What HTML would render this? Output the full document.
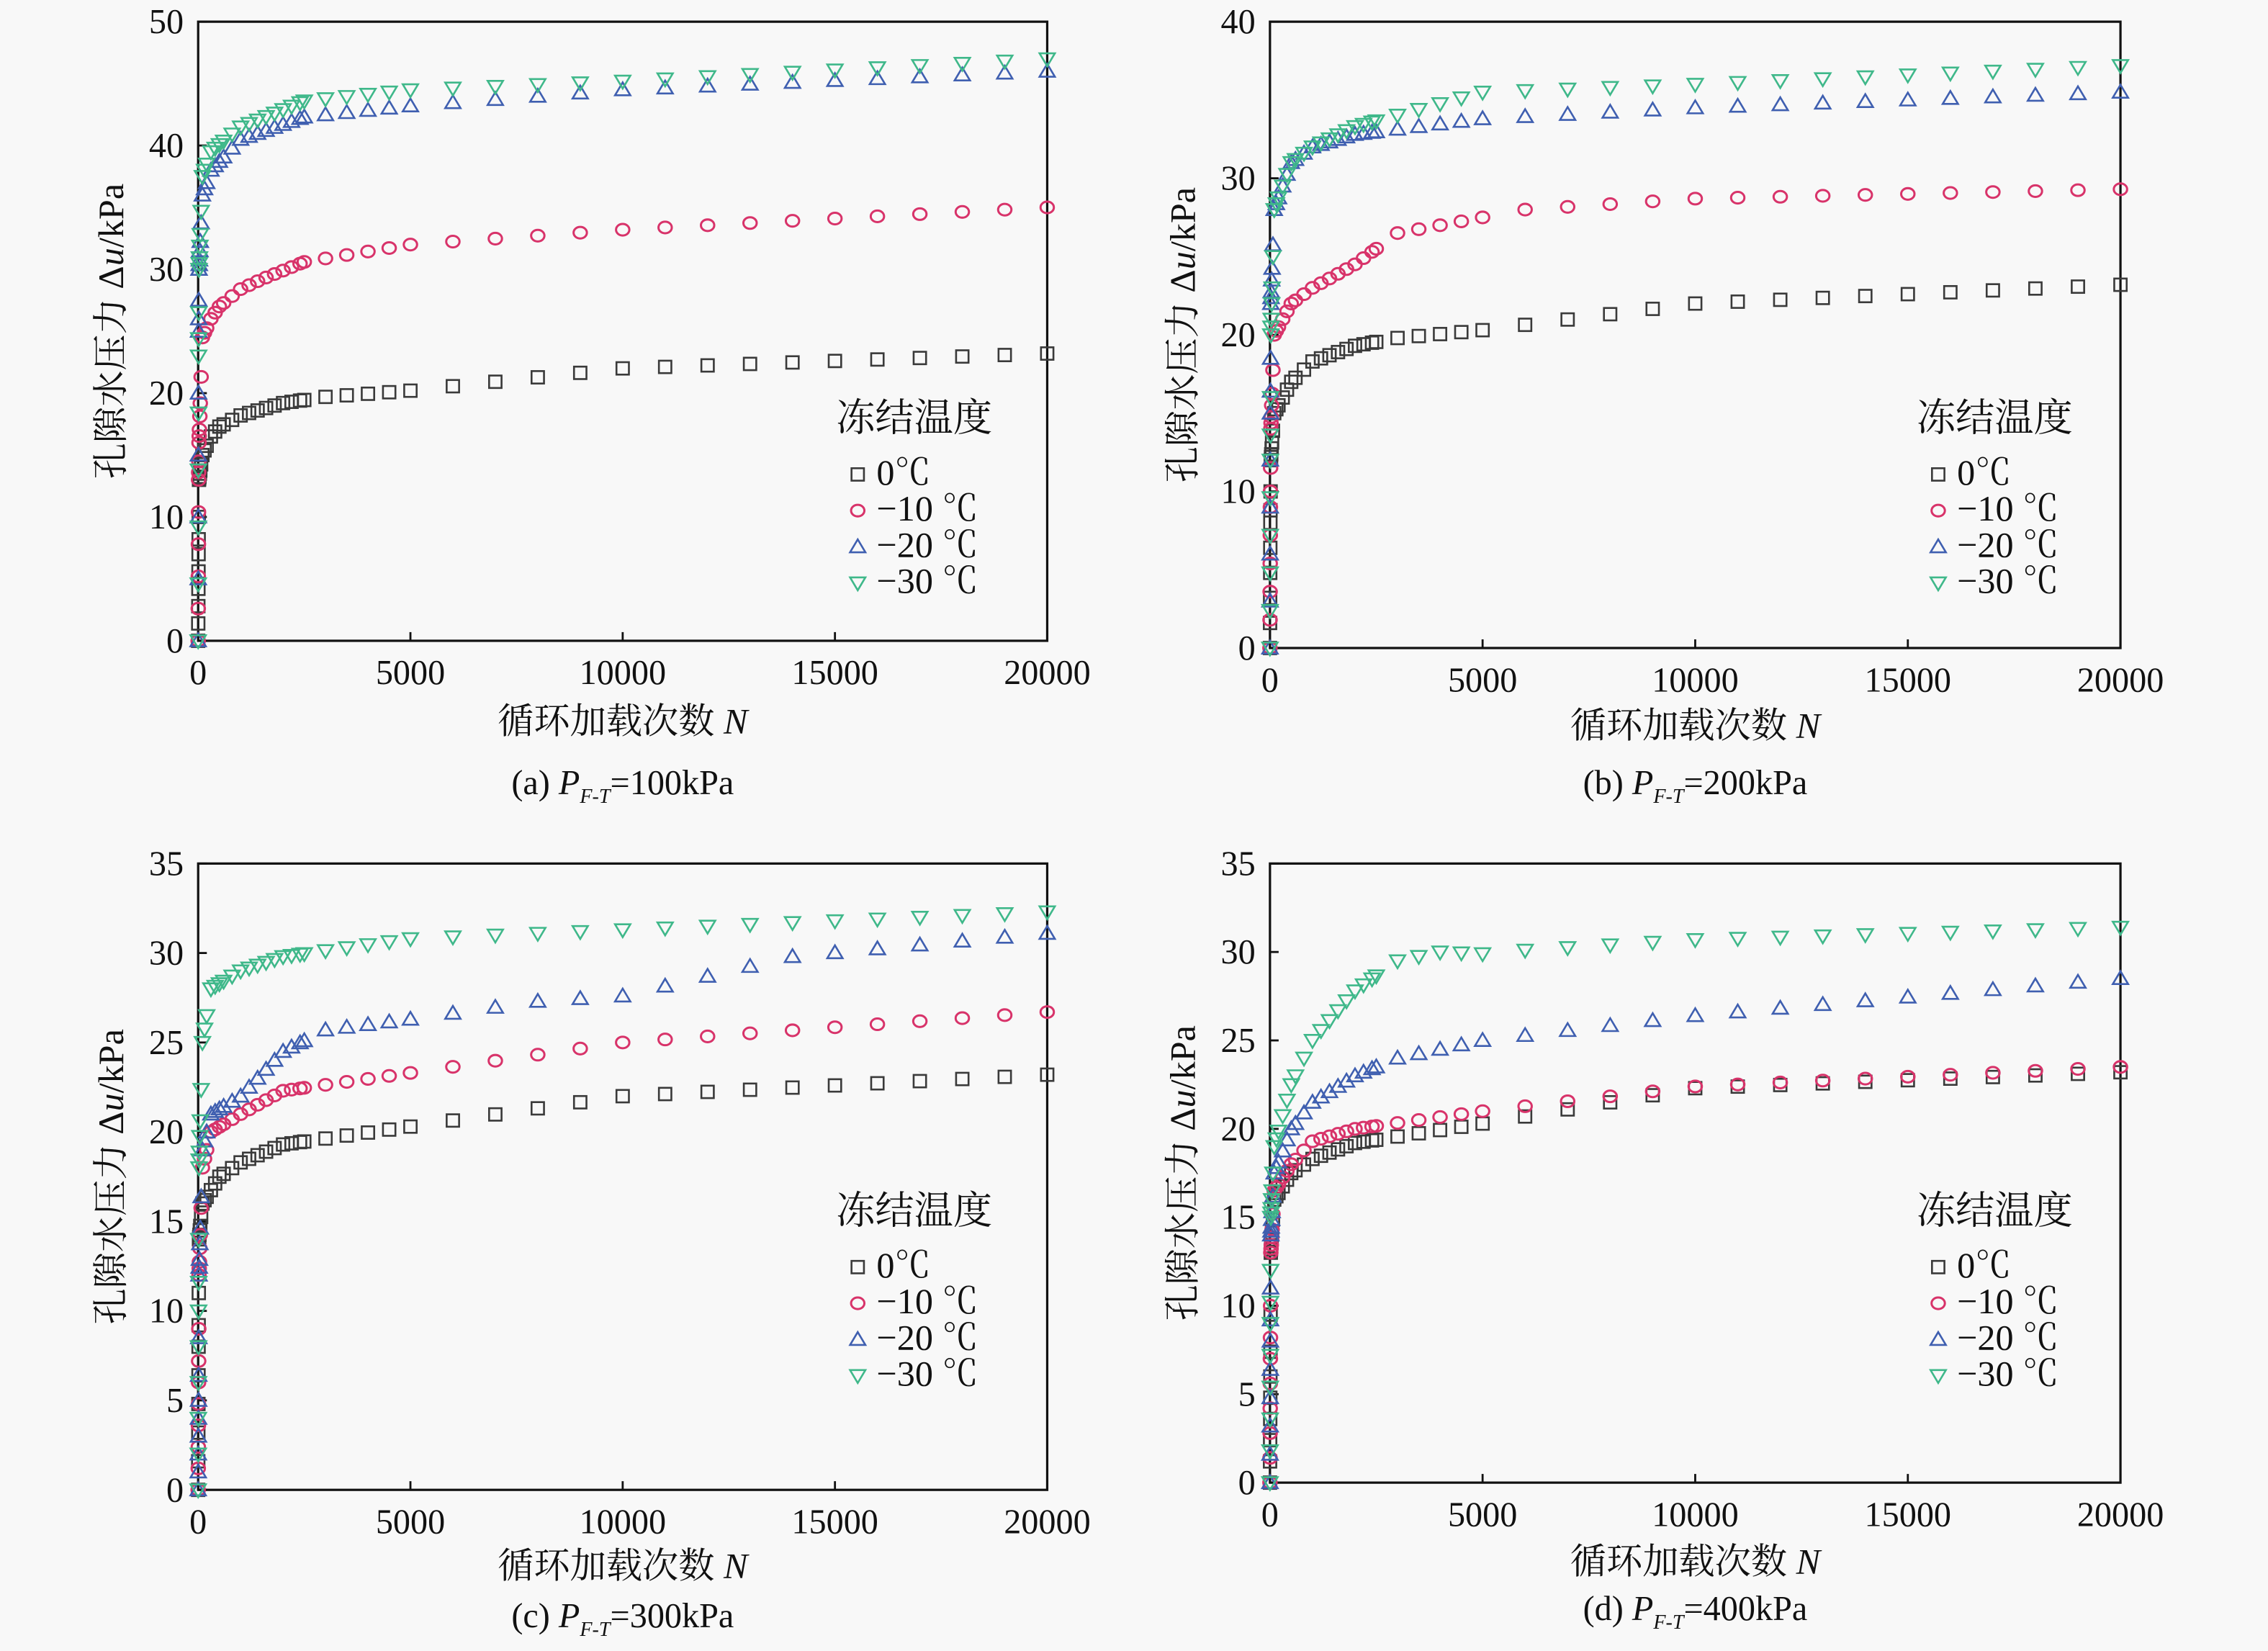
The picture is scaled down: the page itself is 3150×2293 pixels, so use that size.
<!DOCTYPE html>
<html><head><meta charset="utf-8">
<style>
html,body{margin:0;padding:0;background:#f8f8f8;}
svg{display:block;}
text{font-family:"Liberation Serif","Noto Serif CJK SC",serif;fill:#111;}
</style></head>
<body>
<svg id="s" xmlns="http://www.w3.org/2000/svg" width="3150" height="2293" viewBox="0 0 1568 1141.4">
<rect x="0" y="0" width="1568" height="1141.4" fill="#f8f8f8"/>
<g id="g"></g>
</svg>
<script>
const NS="http://www.w3.org/2000/svg";
const G=document.getElementById('g');
function el(t,a,txt){const e=document.createElementNS(NS,t);for(const k in a)e.setAttribute(k,a[k]);if(txt!==undefined)e.textContent=txt;G.appendChild(e);return e;}
const panels=[
 {x0:137,x1:724,y0:15,y1:443,ymax:50,ystep:10,cap:"(a) ",p:"100",lx:578,ly:298,d1:64,d2:106,
  s:[
   [[0,0],[10,7],[20,13],[100,15],[300,16.5],[500,17.3],[1000,18.2],[2000,19.2],[3000,19.7],[5000,20.2],[10000,22],[20000,23.2]],
   [[0,0],[10,13],[20,16],[100,24.5],[300,26],[500,27],[1000,28.4],[1500,29.2],[2500,30.6],[5000,32],[10000,33.2],[20000,35]],
   [[0,0],[10,25],[20,30],[100,36],[300,38],[1000,40.5],[2500,42.3],[5000,43.2],[10000,44.5],[20000,46]],
   [[0,0],[10,23],[20,30],[100,37.5],[300,39.5],[1000,41.5],[2500,43.6],[5000,44.5],[10000,45.2],[20000,47]]
  ]},
 {x0:878,x1:1466,y0:15,y1:448,ymax:40,ystep:10,cap:"(b) ",p:"200",lx:1325,ly:298,d1:62,d2:101,
  s:[
   [[0,0],[10,8],[20,12],[100,15],[500,17],[1000,18.3],[2000,19.3],[3000,19.8],[5000,20.3],[10000,22],[20000,23.2]],
   [[0,0],[10,9],[20,14],[100,20],[500,22],[1000,23],[2000,24.5],[3000,26.5],[5000,27.5],[6000,28],[10000,28.7],[20000,29.3]],
   [[0,0],[10,15],[20,22],[100,28],[500,31],[1000,32],[2000,32.8],[5000,33.8],[10000,34.5],[20000,35.5]],
   [[0,0],[10,12],[20,20],[100,28],[500,31],[1000,32],[2000,33.3],[5000,35.5],[10000,36],[20000,37.2]]
  ]},
 {x0:137,x1:724,y0:597,y1:1030,ymax:35,ystep:5,cap:"(c) ",p:"300",lx:578,ly:846,d1:61,d2:95,
  s:[
   [[0,0],[10,8],[20,14],[100,16],[500,17.5],[1000,18.3],[2000,19.3],[5000,20.3],[10000,22],[20000,23.2]],
   [[0,0],[10,6],[20,12],[100,18],[300,20],[1000,21],[2000,22.3],[5000,23.3],[10000,25],[20000,26.7]],
   [[0,0],[10,5],[20,12],[100,19],[300,21],[1000,22],[2000,24.5],[3000,25.7],[5000,26.3],[8000,27.3],[10000,27.6],[14000,29.8],[20000,31.1]],
   [[0,0],[10,10],[20,18],[100,25],[300,28],[1000,29],[2000,29.8],[5000,30.8],[10000,31.3],[20000,32.3]]
  ]},
 {x0:878,x1:1466,y0:597,y1:1025,ymax:35,ystep:5,cap:"(d) ",p:"400",lx:1325,ly:846,d1:63,d2:95,
  s:[
   [[0,0],[10,6],[20,13],[100,16],[500,17.5],[1000,18.3],[2000,19.2],[5000,20.3],[10000,22.3],[20000,23.2]],
   [[0,0],[10,7],[20,13],[100,16.5],[500,18],[1000,19.3],[2000,20],[5000,21],[10000,22.4],[20000,23.5]],
   [[0,0],[10,8],[20,14],[100,17.5],[500,20],[1000,21.5],[2000,23],[3000,24],[5000,25],[10000,26.4],[20000,28.5]],
   [[0,0],[10,9],[20,15],[100,19],[500,22.5],[1000,25],[2000,27.8],[3000,29.5],[4000,30],[5000,29.9],[6000,30.1],[10000,30.7],[20000,31.4]]
  ]}
];
const cols=["#3a3a3a","#d8336a","#3f5fb0","#3fb88a"];
const Ns=[0,2,4,6,8,10,12,15,20,25,30,40,50,70,100,150,200,300,400,500,600,800,1000,1200,1400,1600,1800,2000,2200,2400,2500,3000,3500,4000,4500,5000];
for(let n=6000;n<=20000;n+=1000)Ns.push(n);
function interp(k,n){for(let i=1;i<k.length;i++){if(n<=k[i][0]){const a=k[i-1],b=k[i];return a[1]+(b[1]-a[1])*(n-a[0])/(b[0]-a[0]);}}return k[k.length-1][1];}
function marker(t,x,y,c){const r=4.3;
 if(t==0)el('rect',{x:x-r,y:y-r,width:2*r,height:2*r,fill:'none',stroke:c,'stroke-width':1.3});
 else if(t==1)el('ellipse',{cx:x,cy:y,rx:r+0.3,ry:r-0.3,fill:'none',stroke:c,'stroke-width':1.5});
 else if(t==2)el('polygon',{points:`${x},${y-r-0.8} ${x-r-1},${y+r-0.5} ${x+r+1},${y+r-0.5}`,fill:'none',stroke:c,'stroke-width':1.3});
 else el('polygon',{points:`${x},${y+r+0.8} ${x-r-1},${y-r+0.5} ${x+r+1},${y-r+0.5}`,fill:'none',stroke:c,'stroke-width':1.3});}
for(const P of panels){
 const X=n=>P.x0+(P.x1-P.x0)*n/20000, Y=v=>P.y1-(P.y1-P.y0)*v/P.ymax;
 el('rect',{x:P.x0,y:P.y0,width:P.x1-P.x0,height:P.y1-P.y0,fill:'none',stroke:'#111','stroke-width':1.6});
 for(let v=0;v<=P.ymax;v+=P.ystep){const y=Y(v);
  el('line',{x1:P.x0,y1:y,x2:P.x0+6,y2:y,stroke:'#111','stroke-width':1.4});
  el('text',{x:P.x0-10,y:y+8,'text-anchor':'end','font-size':24},String(v));}
 for(let n=0;n<=20000;n+=5000){const x=X(n);
  el('line',{x1:x,y1:P.y1,x2:x,y2:P.y1-6,stroke:'#111','stroke-width':1.4});
  el('text',{x:x,y:P.y1+30,'text-anchor':'middle','font-size':24},String(n));}
 const cx=(P.x0+P.x1)/2;
 el('text',{x:cx,y:P.y1+P.d1,'text-anchor':'middle','font-size':25}).innerHTML='循环加载次数 <tspan font-style="italic">N</tspan>';
 const yl=el('text',{x:0,y:0,'text-anchor':'middle','font-size':25,transform:`translate(${P.x0-52},${(P.y0+P.y1)/2}) rotate(-90)`});
 yl.innerHTML='孔隙水压力 Δ<tspan font-style="italic">u</tspan>/kPa';
 const cp=el('text',{x:cx,y:P.y1+P.d2,'text-anchor':'middle','font-size':24});
 cp.innerHTML=P.cap+'<tspan font-style="italic">P</tspan><tspan font-style="italic" font-size="14" dy="6">F-T</tspan><tspan dy="-6">='+P.p+'kPa</tspan>';
 P.s.forEach((k,i)=>{for(const n of Ns){marker(i,X(n),Y(interp(k,n)),cols[i]);}});
 el('text',{x:P.lx,y:P.ly,'font-size':27},'冻结温度');
 const labs=['0℃','−10 ℃','−20 ℃','−30 ℃'];
 for(let i=0;i<4;i++){const y=P.ly+37+i*25;marker(i,P.lx+15,y-7,cols[i]);el('text',{x:P.lx+28,y:y,'font-size':25},labs[i]);}
}
</script>
</body></html>
